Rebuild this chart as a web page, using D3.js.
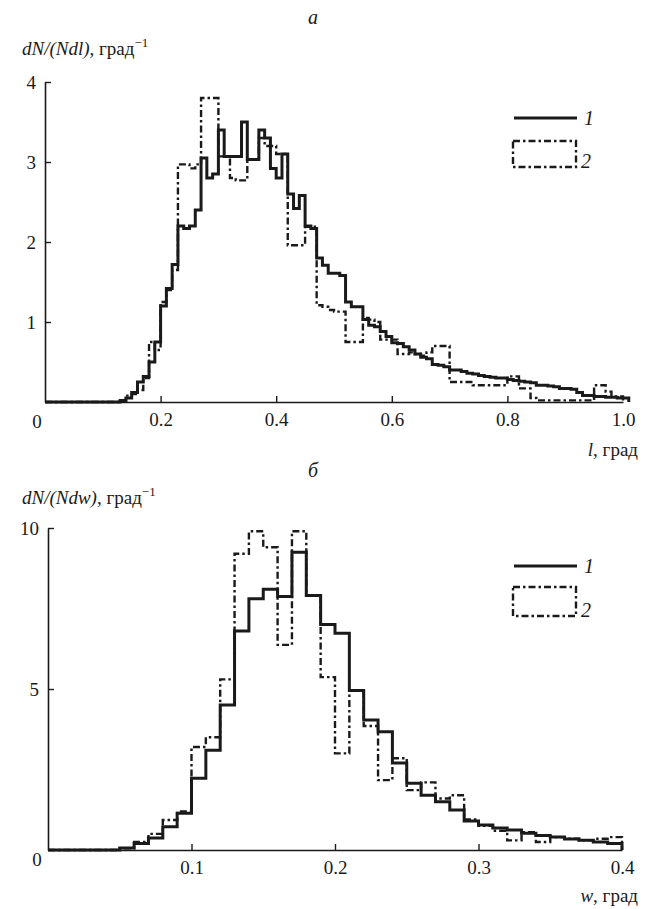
<!DOCTYPE html>
<html><head><meta charset="utf-8">
<script src="https://cdn.jsdelivr.net/npm/d3@7"></script>
<style>
body{margin:0;background:#fff}
</style></head>
<body><svg id="c" width="653" height="909"></svg>
<script>
// ---- data: panel a (l, bins of 0.01 starting at 0.00) ----
const lBinWidth = 0.01;
const lSeries1 = [0,0,0,0,0,0,0,0,0,0,0,0,0,
 0.02,0.05,0.12,0.25,0.32,0.5,0.75,1.2,1.42,1.72,2.2,2.17,2.2,2.4,3.05,2.8,2.85,3.4,3.07,3.07,3.07,3.5,3.03,3.03,3.4,3.3,2.92,2.8,3.1,2.6,2.42,2.58,2.2,2.17,
 1.8,1.71,1.61,1.61,1.58,1.25,1.19,1.19,1.03,0.96,0.94,0.88,0.82,0.74,0.73,0.69,0.65,0.6,0.56,0.54,0.47,0.46,0.44,0.4,0.4,0.38,0.36,0.35,0.33,0.32,0.31,0.3,0.3,0.28,
 0.27,0.26,0.25,0.24,0.21,0.21,0.2,0.19,0.17,0.17,0.16,0.12,0.08,0.08,0.07,0.07,0.06,0.06,0.05,0.05];
const lSeries2 = [0,0,0,0,0,0,0,0,0,0,0,0,0,
 0.02,0.08,0.1,0.15,0.3,0.75,0.65,1.25,1.4,1.65,2.97,2.97,2.92,2.97,3.8,3.8,3.8,3.07,3.07,2.8,2.77,2.77,3.03,3.03,3.3,3.2,3.2,3.1,3.1,1.96,1.96,1.96,2.19,2.19,
 1.21,1.19,1.15,1.13,1.13,0.75,0.75,0.75,1.05,1.03,1.0,0.78,0.78,0.78,0.6,0.6,0.62,0.6,0.58,0.62,0.7,0.7,0.7,0.25,0.25,0.25,0.25,0.21,0.21,0.21,0.21,0.21,0.21,
 0.32,0.32,0.17,0.17,0.05,0.02,0.02,0.02,0.02,0.02,0.02,0.02,0.02,0.02,0.02,0.21,0.21,0.13,0.07,0.07];
const lTicks = [0.2,0.4,0.6,0.8,1.0];
const lTickLabels = ["0.2","0.4","0.6","0.8","1.0"];
const lYTicks = [1,2,3,4];

// ---- data: panel б (w, bins of 0.01 starting at 0.00) ----
const wBinWidth = 0.01;
const wSeries1 = [0,0,0,0,0,0.06,0.2,0.37,0.72,1.14,2.23,3.1,4.5,6.8,7.8,8.1,7.87,9.25,7.9,7.0,6.73,4.95,4.04,3.67,2.7,2.07,1.7,1.5,1.24,0.9,0.78,0.68,0.62,0.52,0.45,0.4,0.34,0.3,0.25,0.2];
const wSeries2 = [0,0,0,0,0,0.05,0.25,0.5,0.93,1.2,3.2,3.5,5.3,9.2,9.9,9.4,6.37,9.9,7.9,5.37,3.0,4.95,3.85,2.17,2.85,1.86,2.1,1.6,1.7,0.95,0.75,0.6,0.3,0.55,0.25,0.4,0.35,0.3,0.35,0.4];
const wTicks = [0.1,0.2,0.3,0.4];
const wTickLabels = ["0.1","0.2","0.3","0.4"];
const wYTicks = [5,10];

const legendLabels = ["1","2"];

const svg = d3.select("#c");
const INK = "#1a1a1a";
const SERIF = '"Liberation Serif","Times New Roman",serif';

function txt(sel){ return sel.append("text").attr("font-family",SERIF).attr("fill",INK); }

function panel(o){
  const g = svg.append("g").attr("font-family",SERIF);
  const x = d3.scaleLinear().domain(o.xDomain).range(o.xRange);
  const y = d3.scaleLinear().domain(o.yDomain).range(o.yRange);

  function steps(vals, bw){
    const pts = vals.map((v,i)=>[i*bw, v]);
    pts.push([vals.length*bw, vals[vals.length-1]]);
    pts.push([vals.length*bw, 0]);
    return pts;
  }
  const line = d3.line().x(d=>x(d[0])).y(d=>y(d[1])).curve(d3.curveStepAfter);
  g.append("path").attr("d", line(steps(o.s1,o.bw))).attr("fill","none")
    .attr("stroke",INK).attr("stroke-width",3).attr("stroke-linejoin","miter");
  g.append("path").attr("d", line(steps(o.s2,o.bw))).attr("fill","none")
    .attr("stroke",INK).attr("stroke-width",2.4).attr("stroke-dasharray","7,3,2.5,3");

  const xa = d3.axisBottom(x).tickValues(o.xTicks).tickFormat((d,i)=>o.xTickLabels[i])
    .tickSize(-6).tickSizeOuter(0).tickPadding(11);
  const gx = g.append("g").attr("transform",`translate(0,${o.yRange[0]})`).call(xa);
  gx.selectAll(".tick").filter(d=>d===o.xDomain[1]).select("line").remove();
  const ya = d3.axisLeft(y).tickValues(o.yTicks).tickFormat(d3.format("d"))
    .tickSize(-6).tickSizeOuter(0).tickPadding(9);
  const gy = g.append("g").attr("transform",`translate(${o.xRange[0]},0)`).call(ya);
  [gx,gy].forEach(a=>{
    a.attr("font-family",SERIF);
    a.select(".domain").attr("stroke",INK).attr("stroke-width",1.6);
    a.selectAll(".tick line").attr("stroke",INK).attr("stroke-width",1.4);
    a.selectAll(".tick text").attr("font-size",19).attr("fill",INK).attr("font-family",SERIF);
  });
  txt(g).attr("x",37).attr("y",o.zeroY).attr("text-anchor","middle")
    .attr("font-size",19).text("0");

  txt(g).attr("x",313).attr("y",o.titleY).attr("text-anchor","middle")
    .attr("font-size",20).attr("font-style","italic").text(o.title);

  const yl = txt(g).attr("x",22).attr("y",o.yLabelY).attr("font-size",19);
  yl.append("tspan").attr("font-style","italic").text(o.yLabelItalic);
  yl.append("tspan").text(", град");
  yl.append("tspan").attr("font-size",13).attr("dy",-8).text("−1");

  const xl = txt(g).attr("x",638).attr("y",o.xLabelY).attr("text-anchor","end").attr("font-size",19);
  xl.append("tspan").attr("font-style","italic").text(o.xLabelItalic);
  xl.append("tspan").text(", град");

  const L = o.legend;
  g.append("line").attr("x1",L.x).attr("x2",L.x+63).attr("y1",L.y1).attr("y2",L.y1)
    .attr("stroke",INK).attr("stroke-width",3);
  txt(g).attr("x",L.x+70).attr("y",L.y1+7).attr("font-size",20)
    .attr("font-style","italic").text(legendLabels[0]);
  g.append("rect").attr("x",L.x-1).attr("y",L.y2).attr("width",63).attr("height",L.h)
    .attr("fill","none").attr("stroke",INK).attr("stroke-width",2.4).attr("stroke-dasharray","7,3,2.5,3");
  txt(g).attr("x",L.x+67).attr("y",L.y2+L.h+1).attr("font-size",20)
    .attr("font-style","italic").text(legendLabels[1]);
}

panel({
  xDomain:[0,1], xRange:[45,623], yDomain:[0,4], yRange:[402,82],
  s1:lSeries1, s2:lSeries2, bw:lBinWidth,
  xTicks:lTicks, xTickLabels:lTickLabels, yTicks:lYTicks,
  zeroY:428, title:"а", titleY:24, yLabelItalic:"dN/(Ndl)", yLabelY:55,
  xLabelItalic:"l", xLabelY:456,
  legend:{x:514, y1:118, y2:141, h:26}
});
panel({
  xDomain:[0,0.4], xRange:[48,622], yDomain:[0,10], yRange:[850,528],
  s1:wSeries1, s2:wSeries2, bw:wBinWidth,
  xTicks:wTicks, xTickLabels:wTickLabels, yTicks:wYTicks,
  zeroY:866, title:"б", titleY:477, yLabelItalic:"dN/(Ndw)", yLabelY:504,
  xLabelItalic:"w", xLabelY:902,
  legend:{x:514, y1:566, y2:587, h:29}
});
</script></body></html>
